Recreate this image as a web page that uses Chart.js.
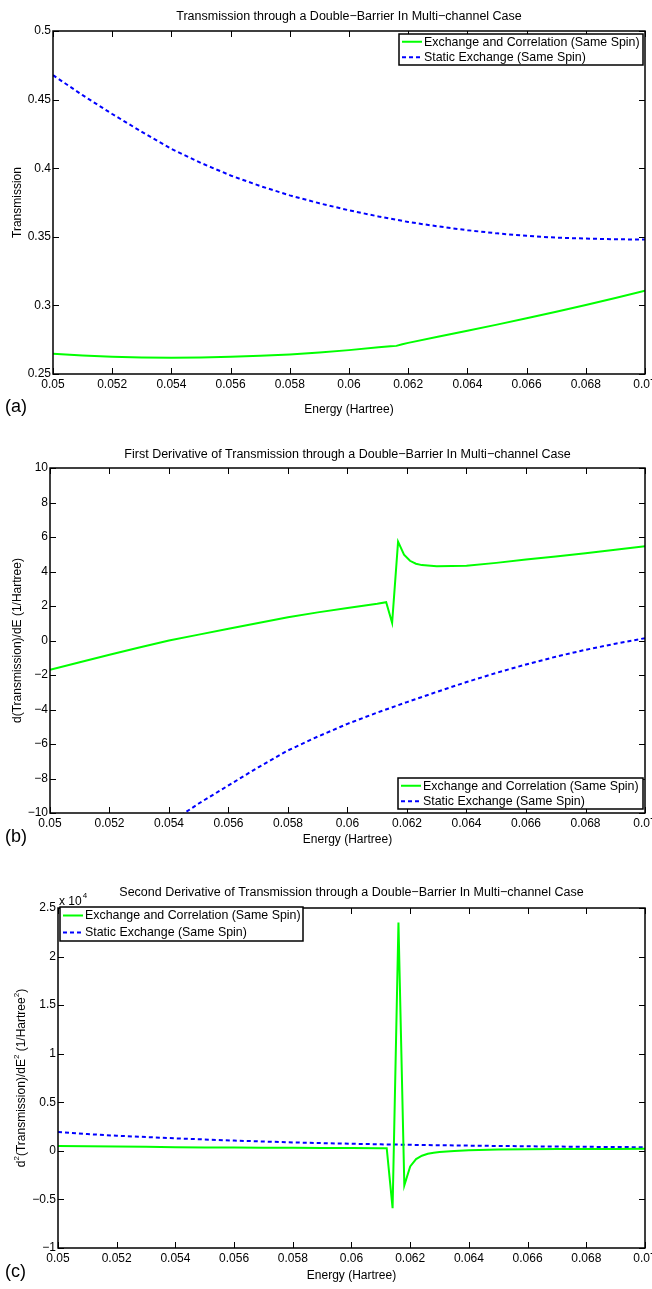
<!DOCTYPE html>
<html lang="en">
<head>
<meta charset="UTF-8">
<title>Transmission through a Double-Barrier In Multi-channel Case</title>
<style>
  html, body { margin: 0; padding: 0; background: #fff; }
  body { width: 652px; height: 1289px; position: relative; overflow: hidden; }
  canvas { position: absolute; left: 0; }
</style>
<script src="https://cdn.jsdelivr.net/npm/chart.js"></script>
</head>
<body>
<canvas id="transChart" width="652" height="430" style="top:0px"></canvas>
<canvas id="firstDerivChart" width="652" height="430" style="top:430px"></canvas>
<canvas id="secondDerivChart" width="652" height="429" style="top:860px"></canvas>
<script>
// ---- tick values ----
const energyTicks = [0.05, 0.052, 0.054, 0.056, 0.058, 0.06, 0.062, 0.064, 0.066, 0.068, 0.07];
const transTicks = [0.25, 0.3, 0.35, 0.4, 0.45, 0.5];
const d1Ticks = [-10, -8, -6, -4, -2, 0, 2, 4, 6, 8, 10];
const d2Ticks = [-10000, -5000, 0, 5000, 10000, 15000, 20000, 25000];

// ---- static exchange (same spin) ----
const energyStatic = [0.050, 0.051, 0.052, 0.053, 0.054, 0.055, 0.056, 0.057, 0.058, 0.059, 0.060,
                      0.061, 0.062, 0.063, 0.064, 0.065, 0.066, 0.067, 0.068, 0.069, 0.070];
const transStatic = [0.4678, 0.4532, 0.4395, 0.4265, 0.4141, 0.4038, 0.3947, 0.3870, 0.3802, 0.3744, 0.3693,
                     0.3648, 0.3608, 0.3576, 0.3548, 0.3525, 0.3507, 0.3494, 0.3487, 0.3482, 0.3480];
const energyD1Static = [0.054, 0.055, 0.056, 0.057, 0.058, 0.059, 0.060, 0.061, 0.062,
                        0.063, 0.064, 0.065, 0.066, 0.067, 0.068, 0.069, 0.070];
const d1Static = [-10.6, -9.45, -8.4, -7.35, -6.37, -5.57, -4.83, -4.18, -3.57,
                  -2.98, -2.41, -1.88, -1.39, -0.94, -0.54, -0.19, 0.135];
const d2Static = [1950, 1725, 1560, 1420, 1290, 1170, 1060, 960, 870, 795, 730,
                  672, 620, 578, 540, 505, 470, 442, 415, 395, 375];

// ---- exchange and correlation (same spin) ----
const energyCorr = [0.050, 0.051, 0.052, 0.053, 0.054, 0.055, 0.056, 0.057, 0.058, 0.059, 0.060, 0.061,
                    0.0612, 0.0614, 0.0616, 0.0618,
                    0.062, 0.063, 0.064, 0.065, 0.066, 0.067, 0.068, 0.069, 0.070];
const transCorr = [0.2648, 0.2635, 0.2626, 0.2621, 0.2619, 0.2620, 0.2625, 0.2633, 0.2643, 0.2657, 0.2674, 0.2695,
                   0.2699, 0.2703, 0.2705, 0.2717,
                   0.2727, 0.2771, 0.2815, 0.2860, 0.2906, 0.2954, 0.3003, 0.3054, 0.3107];
const energyD1Corr = [0.050, 0.051, 0.052, 0.053, 0.054, 0.055, 0.056, 0.057, 0.058, 0.059, 0.060, 0.061,
                      0.0613, 0.0615, 0.0617, 0.0619, 0.0621, 0.0623, 0.0625,
                      0.063, 0.064, 0.065, 0.066, 0.067, 0.068, 0.069, 0.070];
const d1Corr = [-1.70, -1.26, -0.83, -0.41, 0.0, 0.34, 0.68, 1.02, 1.35, 1.63, 1.89, 2.13,
                2.22, 1.02, 5.73, 4.98, 4.62, 4.45, 4.37,
                4.30, 4.33, 4.50, 4.69, 4.87, 5.06, 5.26, 5.46];
const energyD2Corr = [0.050, 0.051, 0.052, 0.053, 0.054, 0.055, 0.056, 0.057, 0.058, 0.059, 0.060, 0.061,
                      0.0612, 0.0614, 0.0616, 0.0618, 0.0620, 0.0622, 0.0624, 0.0626, 0.0628,
                      0.063, 0.0635, 0.064, 0.065, 0.066, 0.067, 0.068, 0.069, 0.070];
const d2Corr = [500, 470, 440, 410, 380, 355, 340, 325, 310, 295, 285, 275,
                270, -5900, 23500, -3550, -1600, -850, -500, -300, -200,
                -120, -20, 60, 130, 170, 185, 190, 200, 205];

const LABEL_CORR = 'Exchange and Correlation (Same Spin)';
const LABEL_STATIC = 'Static Exchange (Same Spin)';
const FONT = '"Liberation Sans", Arial, Helvetica, sans-serif';
const MINUS = '\u2212';

function pairs(xs, ys) {
    return xs.map((x, i) => ({ x: x, y: ys[i] }));
}

function fmt(v) {
    return String(+v.toFixed(4)).replace('-', MINUS);
}

// frame, inward ticks, legend box and labels
const axesDecor = {
    id: 'axesDecor',
    afterDatasetsDraw(chart, args, o) {
        const { ctx, chartArea: a, scales: { x, y } } = chart;
        ctx.save();
        ctx.strokeStyle = '#000';
        ctx.lineWidth = 1;
        ctx.beginPath();
        const tl = 6;
        x.ticks.forEach(t => {
            const px = Math.round(x.getPixelForValue(t.value)) + 0.5;
            ctx.moveTo(px, a.bottom); ctx.lineTo(px, a.bottom - tl);
            ctx.moveTo(px, a.top); ctx.lineTo(px, a.top + tl);
        });
        y.ticks.forEach(t => {
            const py = Math.round(y.getPixelForValue(t.value)) + 0.5;
            ctx.moveTo(a.left, py); ctx.lineTo(a.left + tl, py);
            ctx.moveTo(a.right, py); ctx.lineTo(a.right - tl, py);
        });
        ctx.stroke();
        ctx.lineWidth = 1.5;
        ctx.strokeRect(a.left, a.top, a.width, a.height);

        // legend
        const L = o.legend;
        ctx.fillStyle = '#fff';
        ctx.fillRect(L.left, L.top, L.width, L.height);
        ctx.strokeRect(L.left, L.top, L.width, L.height);
        ctx.font = `12.4px ${FONT}`;
        ctx.textAlign = 'left';
        ctx.textBaseline = 'middle';
        const n = chart.data.datasets.length;
        chart.data.datasets.forEach((ds, i) => {
            const ry = L.top + (i + 0.5) * L.height / n;
            ctx.save();
            ctx.strokeStyle = ds.borderColor;
            ctx.lineWidth = ds.borderWidth;
            ctx.setLineDash(ds.borderDash || []);
            ctx.beginPath();
            ctx.moveTo(L.left + 3, ry);
            ctx.lineTo(L.left + 23, ry);
            ctx.stroke();
            ctx.restore();
            ctx.fillStyle = '#000';
            ctx.fillText(ds.label, L.left + 25, ry + 0.5);
        });

        // title, axis labels, panel tag
        const cx = (a.left + a.right) / 2;
        ctx.fillStyle = '#000';
        ctx.textAlign = 'center';
        ctx.font = `12.5px ${FONT}`;
        ctx.fillText(o.title, cx, o.titleY);
        ctx.font = `12px ${FONT}`;
        ctx.fillText('Energy (Hartree)', cx, o.xLabelY);
        ctx.save();
        ctx.translate(o.yLabelX, (a.top + a.bottom) / 2);
        ctx.rotate(-Math.PI / 2);
        if (o.yLabelParts) {
            // superscripts drawn smaller and raised
            let total = 0;
            o.yLabelParts.forEach(p => {
                ctx.font = `${p.sup ? 8 : 12}px ${FONT}`;
                total += ctx.measureText(p.t).width;
            });
            let px = -total / 2;
            ctx.textAlign = 'left';
            o.yLabelParts.forEach(p => {
                ctx.font = `${p.sup ? 8 : 12}px ${FONT}`;
                ctx.fillText(p.t, px, p.sup ? -5 : 0);
                px += ctx.measureText(p.t).width;
            });
        } else {
            ctx.fillText(o.yLabel, 0, 0);
        }
        ctx.restore();
        if (o.exponent) {
            ctx.textAlign = 'left';
            ctx.font = `12px ${FONT}`;
            ctx.fillText('x 10', a.left + 1, a.top - 6);
            const w = ctx.measureText('x 10').width;
            ctx.font = `8px ${FONT}`;
            ctx.fillText(o.exponent, a.left + 2 + w, a.top - 12);
        }
        ctx.textAlign = 'left';
        ctx.font = `18px ${FONT}`;
        ctx.fillText(o.tag, 5, o.tagY);
        ctx.restore();
    }
};

function makeChart(id, cfg) {
    const canvas = document.getElementById(id);
    const H = canvas.height;
    return new Chart(canvas.getContext('2d'), {
        type: 'line',
        data: {
            datasets: [
                {
                    label: LABEL_CORR,
                    data: pairs(cfg.corr[0], cfg.corr[1]),
                    borderColor: '#00ff00',
                    borderWidth: 2,
                    pointRadius: 0,
                    tension: 0,
                    fill: false
                },
                {
                    label: LABEL_STATIC,
                    data: pairs(cfg.stat[0], cfg.stat[1]),
                    borderColor: '#0000ff',
                    borderWidth: 2,
                    borderDash: [4, 3],
                    pointRadius: 0,
                    tension: 0,
                    fill: false
                }
            ]
        },
        options: {
            responsive: false,
            animation: false,
            devicePixelRatio: 1,
            layout: { padding: { top: cfg.top, right: 652 - cfg.right, left: 0, bottom: 0 } },
            scales: {
                x: {
                    type: 'linear',
                    min: 0.05,
                    max: 0.07,
                    grid: { display: false, drawTicks: false },
                    border: { display: false },
                    ticks: {
                        color: '#000',
                        font: { family: FONT, size: 12 },
                        padding: 3,
                        maxRotation: 0,
                        autoSkip: false,
                        callback: v => fmt(v)
                    },
                    afterBuildTicks: s => { s.ticks = energyTicks.map(v => ({ value: v })); },
                    afterFit: s => { s.height = H - cfg.bottom; s.paddingLeft = 0; s.paddingRight = 0; }
                },
                y: {
                    type: 'linear',
                    min: cfg.yTicks[0],
                    max: cfg.yTicks[cfg.yTicks.length - 1],
                    grid: { display: false, drawTicks: false },
                    border: { display: false },
                    ticks: {
                        color: '#000',
                        font: { family: FONT, size: 12 },
                        padding: 2,
                        autoSkip: false,
                        callback: v => fmt(v / (cfg.yScale || 1))
                    },
                    afterBuildTicks: s => { s.ticks = cfg.yTicks.map(v => ({ value: v })); },
                    afterFit: s => { s.width = cfg.left; s.paddingTop = 0; s.paddingBottom = 0; }
                }
            },
            plugins: {
                legend: { display: false },
                tooltip: { enabled: false },
                axesDecor: cfg.decor
            }
        },
        plugins: [axesDecor]
    });
}

makeChart('transChart', {
    corr: [energyCorr, transCorr],
    stat: [energyStatic, transStatic],
    yTicks: transTicks,
    top: 31, bottom: 374, left: 53, right: 645,
    decor: {
        title: 'Transmission through a Double' + MINUS + 'Barrier In Multi' + MINUS + 'channel Case',
        titleY: 17,
        xLabelY: 410,
        yLabel: 'Transmission',
        yLabelX: 18,
        tag: '(a)',
        tagY: 407,
        legend: { left: 399, top: 34, width: 244, height: 31 }
    }
});

makeChart('firstDerivChart', {
    corr: [energyD1Corr, d1Corr],
    stat: [energyD1Static, d1Static],
    yTicks: d1Ticks,
    top: 38, bottom: 383, left: 50, right: 645,
    decor: {
        title: 'First Derivative of Transmission through a Double' + MINUS + 'Barrier In Multi' + MINUS + 'channel Case',
        titleY: 25,
        xLabelY: 410,
        yLabel: 'd(Transmission)/dE (1/Hartree)',
        yLabelX: 18,
        tag: '(b)',
        tagY: 407,
        legend: { left: 398, top: 348, width: 245, height: 31 }
    }
});

makeChart('secondDerivChart', {
    corr: [energyD2Corr, d2Corr],
    stat: [energyStatic, d2Static],
    yTicks: d2Ticks,
    yScale: 10000,
    top: 48, bottom: 388, left: 58, right: 645,
    decor: {
        title: 'Second Derivative of Transmission through a Double' + MINUS + 'Barrier In Multi' + MINUS + 'channel Case',
        titleY: 33,
        xLabelY: 416,
        yLabelParts: [
            { t: 'd' }, { t: '2', sup: true }, { t: '(Transmission)/dE' }, { t: '2', sup: true },
            { t: ' (1/Hartree' }, { t: '2', sup: true }, { t: ')' }
        ],
        yLabelX: 22,
        exponent: '4',
        tag: '(c)',
        tagY: 412,
        legend: { left: 60, top: 47, width: 243, height: 34 }
    }
});
</script>
</body>
</html>
